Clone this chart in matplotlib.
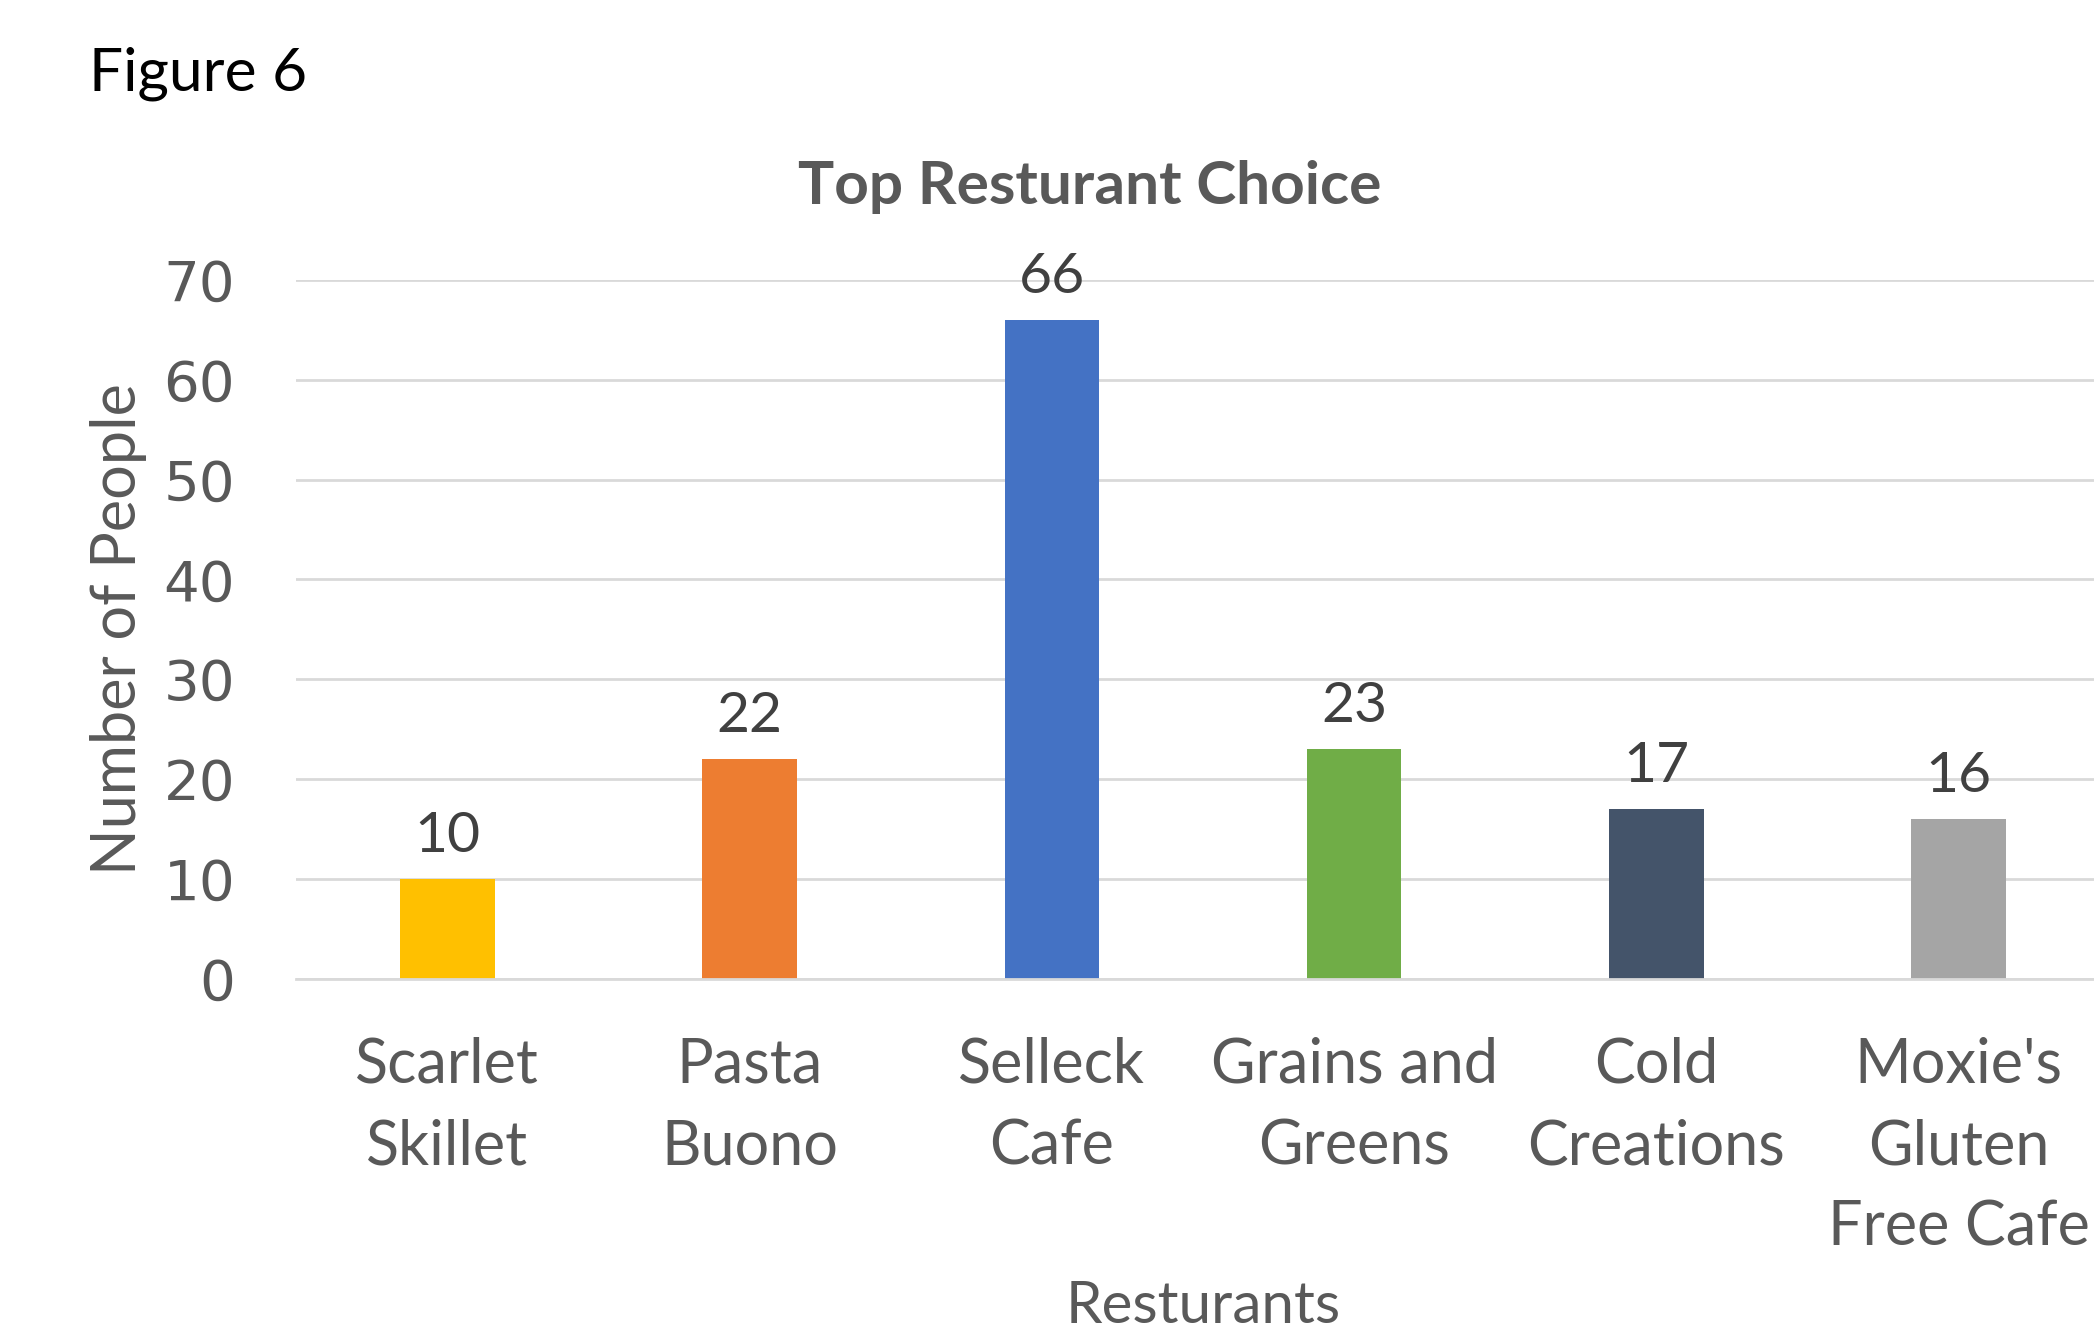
import matplotlib
matplotlib.use("Agg")
import matplotlib.pyplot as plt
from matplotlib.transforms import blended_transform_factory

# Chart data
restaurants = ["Scarlet\nSkillet", "Pasta\nBuono", "Selleck\nCafe", "Grains and\nGreens", "Cold\nCreations",
               "Moxie's\nGluten\nFree Cafe"]
people = [10, 22, 66, 23, 17, 16]
bar_colors = ["#FFC000", "#ED7D31", "#4472C4", "#70AD47", "#44546A", "#A5A5A5"]
y_ticks = [0, 10, 20, 30, 40, 50, 60, 70]

TEXT_FONT = ["Lato", "DejaVu Sans"]
GRAY = "#595959"

fig = plt.figure(figsize=(20.94, 13.39), dpi=100)
ax = fig.add_axes([0.1415, 0.269, 0.8585, 0.522])

x = list(range(len(people)))
ax.bar(x, people, width=0.313, color=bar_colors, zorder=2)

# Axis ranges and grid
ax.set_xlim(-0.5, 5.448)
ax.set_ylim(0, 70)
ax.set_yticks(y_ticks)
ax.yaxis.grid(True, color="#D9D9D9", linewidth=2, zorder=0)
for side in ["top", "right", "left"]:
    ax.spines[side].set_visible(False)
ax.spines["bottom"].set_color("#D9D9D9")
ax.spines["bottom"].set_linewidth(2)
ax.tick_params(axis="y", length=0, pad=44, labelsize=40.5, labelcolor=GRAY)
ax.tick_params(axis="x", length=0)
ax.set_xticks([])
for lbl in ax.get_yticklabels():
    lbl.set_family("DejaVu Sans")

# Category labels under each bar
trans = blended_transform_factory(ax.transData, ax.transAxes)
for xi, name in zip(x, restaurants):
    ax.text(xi, -0.083, name, transform=trans, ha="center", va="top", fontsize=44,
            family=TEXT_FONT, color=GRAY, linespacing=1.53)

# Data labels
for xi, val in zip(x, people):
    ax.annotate(str(val), (xi, val), xytext=(0, 12), textcoords="offset points", ha="center",
                va="bottom", fontsize=41, family=TEXT_FONT, color="#404040")

ax.set_ylabel("Number of People", fontsize=44, family=TEXT_FONT, color=GRAY)
ax.yaxis.set_label_coords(-0.083, 0.5)

fig.text(0.5745, 0.012, "Resturants", ha="center", va="baseline", fontsize=42, family=TEXT_FONT, color=GRAY)
fig.text(0.5205, 0.86, "Top Resturant Choice", ha="center", va="center", fontsize=43.5,
         fontweight="bold", family=TEXT_FONT, color=GRAY)
fig.text(0.0425, 0.945, "Figure 6", ha="left", va="center", fontsize=43.5, family=TEXT_FONT, color="black")

fig.savefig("out.png", dpi=100, facecolor="white")
